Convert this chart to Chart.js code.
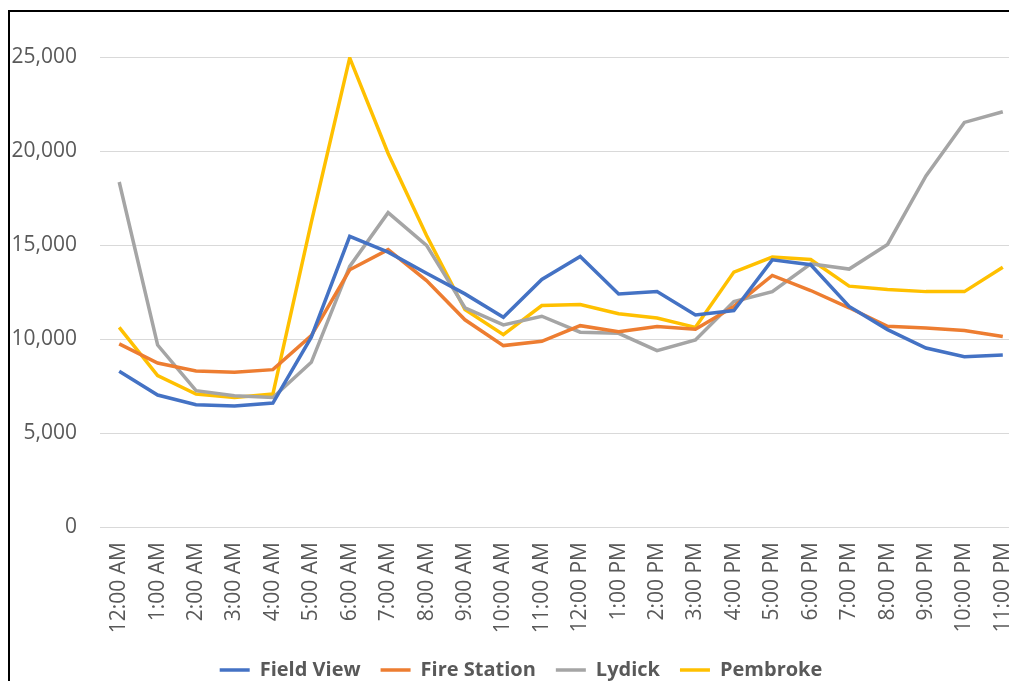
<!DOCTYPE html>
<html>
<head>
<meta charset="utf-8">
<script src="https://cdn.jsdelivr.net/npm/chart.js@4/dist/chart.umd.min.js"></script>
<style>
  html, body { margin: 0; padding: 0; background: #fff; overflow: hidden; width: 1009px; height: 681px; }
  #frame { position: absolute; left: 8px; top: 10px; width: 1200px; height: 800px; border-left: 2px solid #000; border-top: 2px solid #000; }
  #c { position: absolute; left: 10px; top: 12px; }
</style>
</head>
<body>
<div id="frame"></div>
<canvas id="c" width="1022" height="678"></canvas>
<script>
const hours = ["12:00 AM","1:00 AM","2:00 AM","3:00 AM","4:00 AM","5:00 AM","6:00 AM","7:00 AM","8:00 AM","9:00 AM","10:00 AM","11:00 AM","12:00 PM","1:00 PM","2:00 PM","3:00 PM","4:00 PM","5:00 PM","6:00 PM","7:00 PM","8:00 PM","9:00 PM","10:00 PM","11:00 PM"];
const fieldView   = [8280, 7020, 6500, 6430, 6590, 10100, 15460, 14620, 13500, 12400, 11160, 13170, 14390, 12400, 12520, 11280, 11510, 14210, 13950, 11730, 10500, 9520, 9060, 9150];
const fireStation = [9740, 8720, 8300, 8230, 8370, 10180, 13680, 14750, 13110, 11020, 9650, 9880, 10710, 10390, 10660, 10520, 11730, 13380, 12580, 11660, 10680, 10590, 10450, 10130];
const lydick      = [18350, 9680, 7250, 6980, 6890, 8760, 13860, 16720, 14980, 11660, 10750, 11210, 10360, 10300, 9380, 9950, 11990, 12520, 14000, 13720, 15030, 18670, 21520, 22090];
const pembroke    = [10620, 8050, 7070, 6890, 7070, 16200, 24950, 19870, 15500, 11570, 10230, 11780, 11830, 11340, 11120, 10620, 13560, 14360, 14230, 12810, 12630, 12520, 12520, 13820];
const yTickStep = 5000, yMax = 25000;

const mk = (label, data, color) => ({ label, data, borderColor: color, backgroundColor: color, borderWidth: 3.5, pointRadius: 0, tension: 0, fill: false });

new Chart(document.getElementById('c'), {
  type: 'line',
  data: {
    labels: hours,
    datasets: [
      mk('Field View', fieldView, '#4472C4'),
      mk('Fire Station', fireStation, '#ED7D31'),
      mk('Lydick', lydick, '#A5A5A5'),
      mk('Pembroke', pembroke, '#FFC000')
    ]
  },
  options: {
    responsive: false,
    devicePixelRatio: 1,
    animation: false,
    layout: { padding: { top: 45, left: 0, right: 0, bottom: 0 } },
    plugins: {
      tooltip: { enabled: false },
      legend: {
        position: 'bottom',
        labels: {
          usePointStyle: true, pointStyle: 'line', pointStyleWidth: 30,
          color: '#595959', padding: 20,
          font: { family: 'Open Sans', size: 20, weight: 'bold' }
        }
      }
    },
    scales: {
      x: {
        offset: true,
        grid: { display: false, drawTicks: false },
        border: { display: false },
        ticks: { autoSkip: false, maxRotation: 90, minRotation: 90, padding: 15, color: '#595959', font: { family: 'Open Sans', size: 21 } },
        afterFit: s => { s.height = 113; s.paddingRight = 0; s.paddingLeft = 0; }
      },
      y: {
        min: 0, max: yMax,
        grid: { color: '#d9d9d9', lineWidth: 1, drawTicks: false },
        border: { display: false },
        ticks: { stepSize: yTickStep, padding: 23, color: '#595959', font: { family: 'Open Sans', size: 21 } },
        afterFit: s => { s.width = 90; }
      },
      y2: {
        position: 'right', display: true,
        grid: { display: false, drawTicks: false },
        border: { display: false },
        ticks: { display: false },
        afterFit: s => { s.width = 10; }
      }
    }
  }
});
</script>
</body>
</html>
